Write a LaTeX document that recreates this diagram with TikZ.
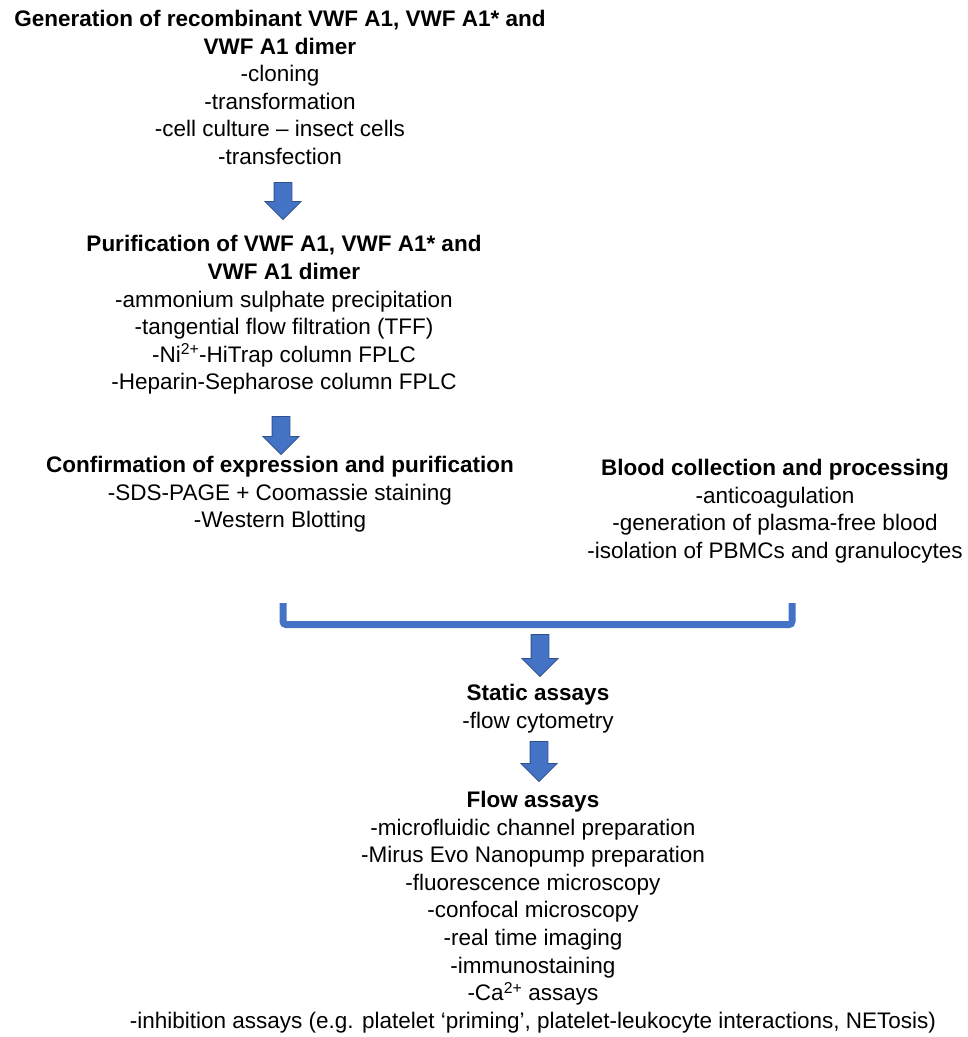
\documentclass[tikz,border=0pt]{standalone}
\usepackage{fontspec}
\setmainfont{Liberation Sans}
\usetikzlibrary{shapes.arrows}
\definecolor{arrowblue}{HTML}{4472C4}
\definecolor{arrowedge}{HTML}{2F528F}
\begin{document}
\begin{tikzpicture}[
              x=1pt,y=-1pt,
              block/.style={align=center,inner sep=0pt,font=\fontsize{22.5}{27.6}\selectfont},
              blockarrow/.style={single arrow,draw=arrowedge,fill=arrowblue,line width=0.8pt,
                inner sep=8.5pt,single arrow head extend=9pt,shape border rotate=270},
              bracket/.style={draw=arrowblue,line width=7pt,rounded corners=3pt}
            ]
            \useasboundingbox (0,0) rectangle (968,1037);

            % Generation
            \node[block] (gen) at (280,87.5) {\textbf{Generation of recombinant VWF A1, VWF A1* and}\\
              \textbf{VWF A1 dimer}\\-cloning\\-transformation\\-cell culture – insect cells\\-transfection};
            \node[blockarrow,minimum height=37pt] (arrgen) at (283,196.5) {};

            % Purification
            \node[block] (pur) at (284,315) {\textbf{Purification of VWF A1, VWF A1* and}\\
              \textbf{VWF A1 dimer}\\-ammonium sulphate precipitation\\-tangential flow filtration (TFF)\\
              -Ni\textsuperscript{2+}-HiTrap column FPLC\\-Heparin-Sepharose column FPLC};
            \node[blockarrow,minimum height=38pt] (arrpur) at (281,431) {};

            % Confirmation
            \node[block] (conf) at (280,494.5) {\textbf{Confirmation of expression and purification}\\
              -SDS-PAGE + Coomassie staining\\-Western Blotting};

            % Blood
            \node[block] (blood) at (775,511) {\textbf{Blood collection and processing}\\-anticoagulation\\
              -generation of plasma-free blood\\-isolation of PBMCs and granulocytes};

            % Bracket joining both branches
            \coordinate (brl) at (283,603);
            \coordinate (brr) at (792,603);
            \draw[bracket] (brl) -- (brl |- 0,624.5) -- (brr |- 0,624.5) -- (brr);
            \node[blockarrow,minimum height=42pt] (arrjoin) at (540,651) {};

            % Static assays
            \node[block] (static) at (538,708.5) {\textbf{Static assays}\\-flow cytometry};
            \node[blockarrow,minimum height=40pt] (arrstatic) at (539,757) {};

            % Flow assays
            \node[block] (flow) at (533,912) {\textbf{Flow assays}\\-microfluidic channel preparation\\
              -Mirus Evo Nanopump preparation\\-fluorescence microscopy\\-confocal microscopy\\
              -real time imaging\\-immunostaining\\-Ca\textsuperscript{2+} assays\\
              -inhibition assays (e.g. platelet ‘priming’, platelet-leukocyte interactions, NETosis)};

\end{tikzpicture}
\end{document}
